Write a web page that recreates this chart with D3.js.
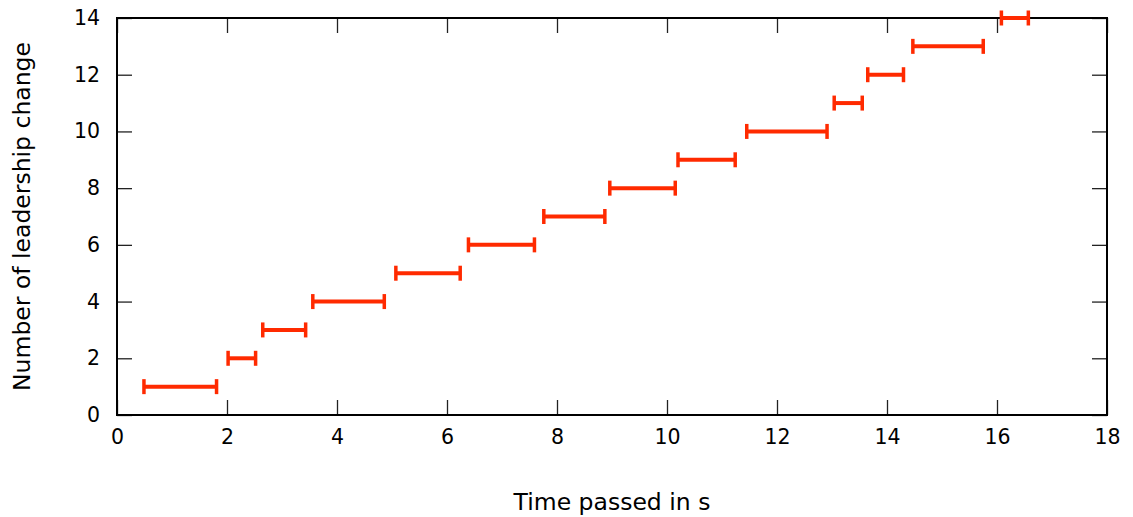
<!DOCTYPE html>
<html>
<head>
<meta charset="utf-8">
<script src="https://cdn.jsdelivr.net/npm/d3@7"></script>
<style>
  body { margin: 0; background: #fff; }
  text { font-family: "DejaVu Sans", Verdana, sans-serif; fill: #000; }
</style>
</head>
<body>
<script>
// leadership change intervals (seconds)
const changeCount = [1, 2, 3, 4, 5, 6, 7, 8, 9, 10, 11, 12, 13, 14];
const startTime = [0.49, 2.02, 2.65, 3.56, 5.07, 6.39, 7.76, 8.96, 10.2, 11.45, 13.04, 13.65, 14.47, 16.08];
const endTime = [1.81, 2.52, 3.43, 4.86, 6.24, 7.59, 8.87, 10.15, 11.24, 12.91, 13.55, 14.3, 15.75, 16.57];
const xTicks = [0, 2, 4, 6, 8, 10, 12, 14, 16, 18];
const yTicks = [0, 2, 4, 6, 8, 10, 12, 14];

const w = 1133;
const h = 517;
const plotLeft = 117, plotRight = 1107, plotTop = 18, plotBottom = 415;
const tickLen = 15;
const barColor = "#ff2a00";

const xScale = d3.scaleLinear().domain([0, 18]).range([plotLeft, plotRight]);
const yScale = d3.scaleLinear().domain([0, 14]).range([plotBottom, plotTop]);

const svg = d3.select("body").append("svg")
  .attr("width", w)
  .attr("height", h);

// axes with inward ticks, mirrored on top/right
const xAxis = d3.axisBottom(xScale).tickValues(xTicks).tickSizeInner(-tickLen).tickSizeOuter(0).tickPadding(14);
const yAxis = d3.axisLeft(yScale).tickValues(yTicks).tickSizeInner(-tickLen).tickSizeOuter(0).tickPadding(17);

const gx = svg.append("g").attr("transform", "translate(0," + plotBottom + ")").call(xAxis);
const gy = svg.append("g").attr("transform", "translate(" + plotLeft + ",0)").call(yAxis);
const gxTop = svg.append("g").attr("transform", "translate(0," + plotTop + ")")
  .call(d3.axisTop(xScale).tickValues(xTicks).tickSizeInner(-tickLen).tickSizeOuter(0).tickFormat(""));
const gyRight = svg.append("g").attr("transform", "translate(" + plotRight + ",0)")
  .call(d3.axisRight(yScale).tickValues(yTicks).tickSizeInner(-tickLen).tickSizeOuter(0).tickFormat(""));

[gx, gy, gxTop, gyRight].forEach(g => {
  g.select(".domain").remove();
  g.selectAll(".tick line").attr("stroke", "#222").attr("stroke-width", 1.3);
  g.selectAll(".tick text").style("font-size", "20.5px").style("font-family", "DejaVu Sans");
});

svg.append("rect")
  .attr("x", plotLeft)
  .attr("y", plotTop)
  .attr("width", plotRight - plotLeft)
  .attr("height", plotBottom - plotTop)
  .attr("fill", "none")
  .attr("stroke", "#000")
  .attr("stroke-width", 2);

// error bars
const bars = svg.append("g").attr("stroke", barColor);
changeCount.forEach((n, i) => {
  const y = yScale(n);
  const x1 = xScale(startTime[i]);
  const x2 = xScale(endTime[i]);
  bars.append("line").attr("x1", x1).attr("x2", x2).attr("y1", y).attr("y2", y).attr("stroke-width", 4);
  bars.append("line").attr("x1", x1).attr("x2", x1).attr("y1", y - 7.5).attr("y2", y + 7.5).attr("stroke-width", 3.5);
  bars.append("line").attr("x1", x2).attr("x2", x2).attr("y1", y - 7.5).attr("y2", y + 7.5).attr("stroke-width", 3.5);
});

svg.append("text")
  .attr("x", (plotLeft + plotRight) / 2)
  .attr("y", 510)
  .attr("text-anchor", "middle")
  .style("font-size", "23.5px")
  .text("Time passed in s");

svg.append("text")
  .attr("transform", "translate(30," + ((plotTop + plotBottom) / 2) + ") rotate(-90)")
  .attr("text-anchor", "middle")
  .style("font-size", "23.5px")
  .text("Number of leadership change");
</script>
</body>
</html>
